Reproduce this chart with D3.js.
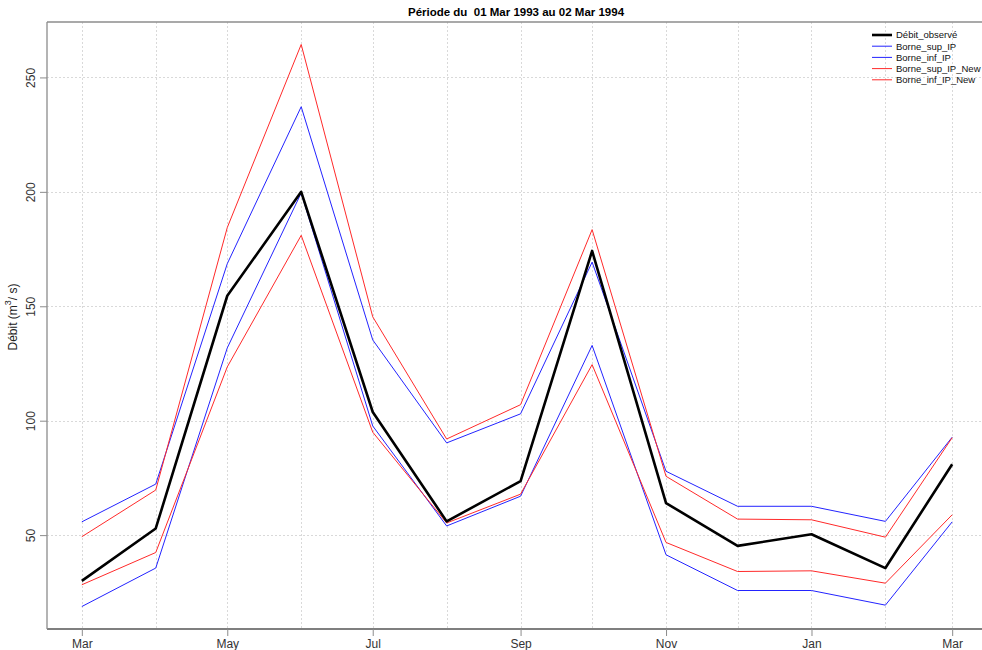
<!DOCTYPE html>
<html>
<head>
<meta charset="utf-8">
<script src="https://cdn.jsdelivr.net/npm/d3@7"></script>
<style>
  html, body { margin: 0; padding: 0; background: #fff; }
  svg { display: block; font-family: "Liberation Sans", Arial, sans-serif; }
</style>
</head>
<body>
<svg id="chart" width="982" height="650"></svg>
<script>
// Monthly discharge series, March 1993 – March 1994
const dates = ["1993-03-01","1993-04-01","1993-05-01","1993-06-01","1993-07-01","1993-08-01",
               "1993-09-01","1993-10-01","1993-11-01","1993-12-01","1994-01-01","1994-02-01","1994-03-01"];
const debitObserve  = [30.0, 52.9, 154.6, 200.0, 103.8, 56.0, 73.6, 174.2, 64.0, 45.3, 50.4, 35.6, 81.0];
const borneSupIP    = [55.8, 72.3, 168.6, 237.2, 135.3, 90.3, 103.0, 169.3, 77.9, 62.6, 62.6, 56.0, 92.8];
const borneInfIP    = [18.8, 35.6, 131.8, 199.5, 97.7, 54.0, 67.0, 132.9, 41.4, 25.8, 25.8, 19.4, 55.8];
const borneSupIPNew = [49.3, 69.7, 184.4, 264.4, 145.4, 92.0, 107.0, 183.5, 75.7, 57.0, 56.7, 49.1, 92.6];
const borneInfIPNew = [28.3, 42.4, 123.5, 181.0, 95.0, 55.3, 67.9, 124.5, 46.8, 34.1, 34.4, 29.0, 58.9];

const seriesNames  = ["Débit_observé", "Borne_sup_IP", "Borne_inf_IP", "Borne_sup_IP_New", "Borne_inf_IP_New"];
const seriesValues = [debitObserve, borneSupIP, borneInfIP, borneSupIPNew, borneInfIPNew];
const seriesColors = ["#000000", "#2323ff", "#2323ff", "#ff2a2a", "#ff2a2a"];
const seriesWidths = [2.6, 1, 1, 1, 1];

const yTicks = [50, 100, 150, 200, 250];
const xTickMonths = ["1993-03-01","1993-05-01","1993-07-01","1993-09-01","1993-11-01","1994-01-01","1994-03-01"];
const xTickLabels = ["Mar","May","Jul","Sep","Nov","Jan","Mar"];
const title = "Période du  01 Mar 1993 au 02 Mar 1994";

const parse = d3.utcParse("%Y-%m-%d");
const xDates = dates.map(parse);

const svg = d3.select("#chart");
const plot = { left: 47, right: 987, top: 22, bottom: 629 };

// Axis ranges padded by 4% on each side
const tExt = d3.extent(xDates);
const tPad = (tExt[1] - tExt[0]) * 0.04;
const x = d3.scaleUtc()
  .domain([new Date(+tExt[0] - tPad), new Date(+tExt[1] + tPad)])
  .range([plot.left, plot.right]);

const allVals = seriesValues.flat();
const vMin = d3.min(allVals), vMax = d3.max(allVals);
const vPad = (vMax - vMin) * 0.04;
const y = d3.scaleLinear()
  .domain([vMin - vPad, vMax + vPad])
  .range([plot.bottom, plot.top]);

// Dotted grid: every month vertically, every labelled value horizontally
const grid = svg.append("g").attr("stroke", "#d9d9d9").attr("stroke-dasharray", "2,2").attr("stroke-width", 1);
grid.selectAll("line.v").data(xDates).join("line")
  .attr("x1", d => Math.round(x(d)) + 0.5).attr("x2", d => Math.round(x(d)) + 0.5)
  .attr("y1", plot.top).attr("y2", plot.bottom);
grid.selectAll("line.h").data(yTicks).join("line")
  .attr("x1", plot.left).attr("x2", plot.right)
  .attr("y1", d => Math.round(y(d)) + 0.5).attr("y2", d => Math.round(y(d)) + 0.5);

// Series lines
const line = d3.line().x((d, i) => x(xDates[i])).y(d => y(d));
// draw thin bounds first, observed series on top
const order = [1, 2, 3, 4, 0];
svg.append("g").selectAll("path").data(order).join("path")
  .attr("fill", "none")
  .attr("stroke", k => seriesColors[k])
  .attr("stroke-width", k => seriesWidths[k])
  .attr("stroke-linejoin", "round")
  .attr("d", k => line(seriesValues[k]));

// Frame
const frame = svg.append("g").attr("stroke", "#8c8c8c").attr("stroke-width", 1.3).attr("fill", "none");
frame.append("line").attr("x1", plot.left).attr("x2", plot.right).attr("y1", plot.top).attr("y2", plot.top);
frame.append("line").attr("x1", plot.left).attr("x2", plot.right).attr("y1", plot.bottom).attr("y2", plot.bottom).attr("stroke", "#555");
frame.append("line").attr("x1", plot.left).attr("x2", plot.left).attr("y1", plot.top).attr("y2", plot.bottom);

// X axis
const xAxis = d3.axisBottom(x)
  .tickValues(xTickMonths.map(parse))
  .tickFormat((d, i) => xTickLabels[i])
  .tickSize(7).tickPadding(3).tickSizeOuter(0);
const gx = svg.append("g").attr("transform", `translate(0,${plot.bottom})`).call(xAxis);
gx.select(".domain").remove();
gx.selectAll(".tick line").attr("stroke", "#8c8c8c");
gx.selectAll(".tick text").attr("font-size", 12).attr("fill", "#333")
  .attr("font-family", "'Liberation Sans', Arial, sans-serif");

// Y axis with rotated labels
const yAxis = d3.axisLeft(y).tickValues(yTicks).tickSize(7).tickPadding(3);
const gy = svg.append("g").attr("transform", `translate(${plot.left},0)`).call(yAxis);
gy.select(".domain").remove();
gy.selectAll(".tick line").attr("stroke", "#8c8c8c");
gy.selectAll(".tick text")
  .attr("font-size", 12).attr("fill", "#333")
  .attr("font-family", "'Liberation Sans', Arial, sans-serif")
  .attr("text-anchor", "middle").attr("dy", null).attr("x", null)
  .attr("transform", "translate(-16,0) rotate(-90)")
  .attr("dominant-baseline", "central");

// Y axis title
const ytitle = svg.append("text")
  .attr("transform", `translate(17,317) rotate(-90)`)
  .attr("text-anchor", "middle")
  .attr("font-size", 12).attr("fill", "#222");
ytitle.append("tspan").text("Débit (m");
ytitle.append("tspan").text("3").attr("font-size", 9).attr("dy", -6);
ytitle.append("tspan").text("/ s)").attr("dy", 6);

// Title
svg.append("text")
  .attr("x", (plot.left + plot.right) / 2 - 1).attr("y", 16)
  .attr("text-anchor", "middle")
  .style("white-space", "pre")
  .attr("font-size", 11.5).attr("font-weight", "bold").attr("fill", "#000")
  .text(title);

// Legend
const legend = svg.append("g").attr("transform", "translate(872,35)");
const items = legend.selectAll("g").data(seriesNames).join("g")
  .attr("transform", (d, i) => `translate(0,${i * 11.2})`);
items.append("line")
  .attr("x1", 0).attr("x2", 20).attr("y1", 0).attr("y2", 0)
  .attr("stroke", (d, i) => seriesColors[i])
  .attr("stroke-width", (d, i) => seriesWidths[i]);
items.append("text")
  .attr("x", 24).attr("y", 0).attr("dy", "0.35em")
  .attr("font-size", 9.5).attr("fill", "#111")
  .text(d => d);
</script>
</body>
</html>
